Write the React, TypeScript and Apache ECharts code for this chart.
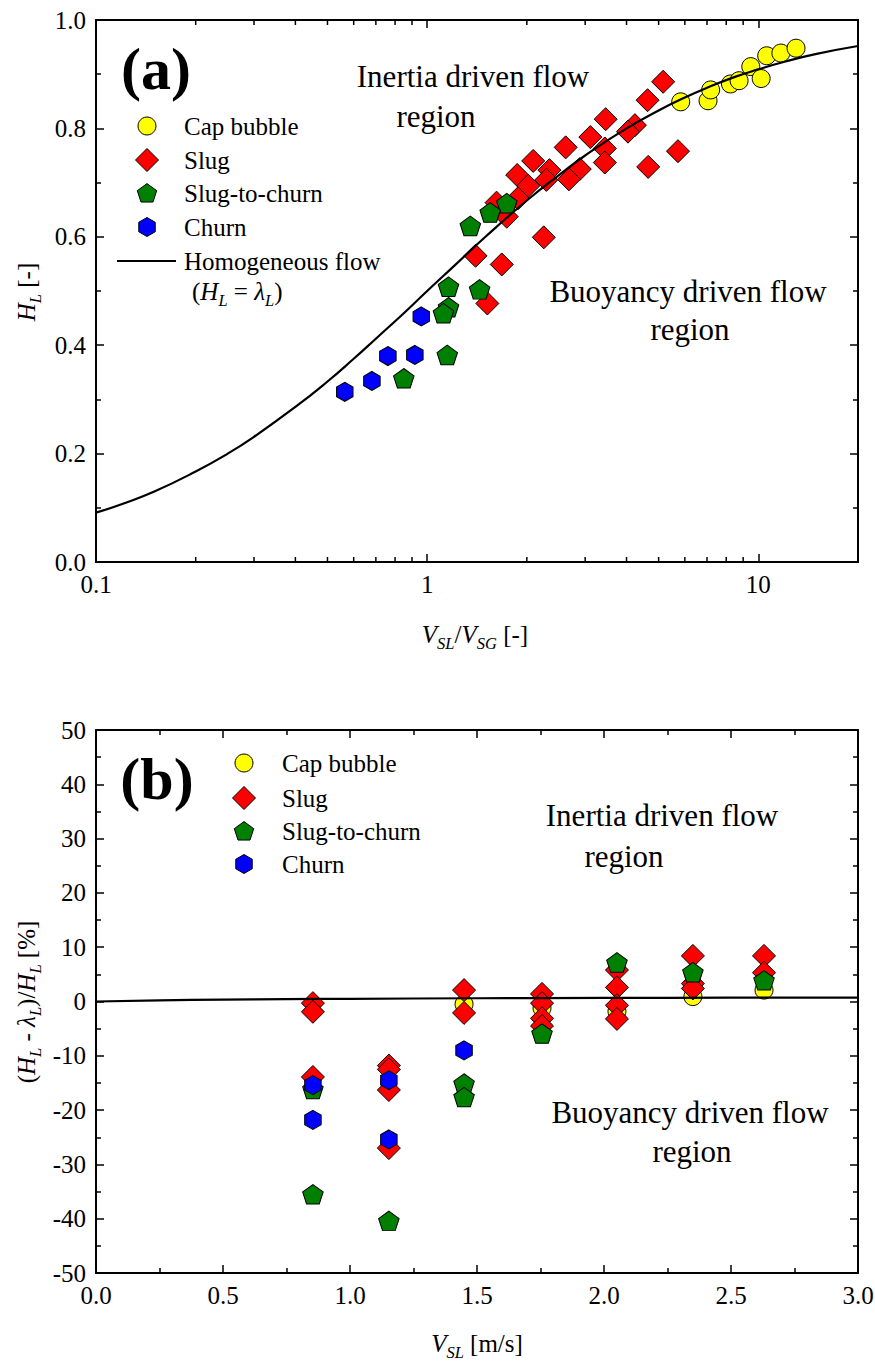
import React, { useEffect, useRef } from "react";
import * as echarts from "echarts";

const FONT = "Liberation Serif";

// ---- Panel (a): liquid holdup H_L against V_SL / V_SG ----
const capRatio = [5.83, 7.05, 7.18, 8.24, 8.75, 9.49, 10.2, 10.6, 11.7, 13.0];
const capHoldup = [0.849, 0.851, 0.871, 0.882, 0.888, 0.914, 0.892, 0.934, 0.939, 0.948];

const slugRatio = [
  5.16, 4.63, 3.46, 3.11, 4.24, 4.04, 3.44, 3.44, 2.89, 4.65, 5.72, 2.62, 2.09,
  2.34, 1.87, 2.02, 2.68, 2.29, 1.88, 1.62, 1.74, 2.25, 1.4, 1.68, 1.52,
];
const slugHoldup = [
  0.886, 0.852, 0.817, 0.784, 0.806, 0.794, 0.763, 0.737, 0.725, 0.729, 0.758,
  0.765, 0.74, 0.723, 0.714, 0.694, 0.706, 0.705, 0.671, 0.663, 0.637, 0.599,
  0.565, 0.549, 0.477,
];

const stcRatio = [1.74, 1.55, 1.35, 1.16, 1.44, 1.16, 1.12, 1.15, 0.85];
const stcHoldup = [0.662, 0.645, 0.62, 0.508, 0.503, 0.47, 0.459, 0.382, 0.339];

const churnRatio = [0.564, 0.681, 0.761, 0.918, 0.96];
const churnHoldup = [0.314, 0.334, 0.38, 0.382, 0.453];

// homogeneous (no-slip) holdup line
const homogRatio = [
  0.1, 0.12, 0.15, 0.2, 0.25, 0.3, 0.4, 0.5, 0.6, 0.7, 0.85, 1, 1.2, 1.5, 2, 2.5,
  3, 4, 5, 6, 7, 8.5, 10, 12, 15, 20,
];
const homogHoldup = [
  0.091, 0.107, 0.13, 0.167, 0.2, 0.231, 0.286, 0.333, 0.375, 0.412, 0.459, 0.5,
  0.545, 0.6, 0.667, 0.714, 0.75, 0.8, 0.833, 0.857, 0.875, 0.895, 0.909, 0.923,
  0.9375, 0.952,
];

// minor ticks of the logarithmic axis
const logMinorTicks = [0.2, 0.3, 0.4, 0.5, 0.6, 0.7, 0.8, 0.9, 2, 3, 4, 5, 6, 7, 8, 9];

// ---- Panel (b): relative deviation (H_L - lambda_L)/H_L against V_SL ----
const capVsl = [1.449, 1.756, 2.051, 2.35, 2.63];
const capDev = [-0.5, -1.2, -1.8, 0.9, 2.1];

const slugVsl = [
  0.854, 0.854, 0.854, 1.153, 1.153, 1.153, 1.153, 1.449, 1.449, 1.756, 1.756,
  1.756, 1.756, 2.051, 2.051, 2.051, 2.051, 2.35, 2.35, 2.35, 2.63, 2.63,
];
const slugDev = [
  -0.3, -1.9, -13.9, -11.8, -12.5, -16.3, -27.0, 2.1, -2.1, 1.4, -0.3, -3.1, -4.5,
  5.8, 2.6, -0.7, -3.2, 8.4, 3.3, 2.4, 8.4, 5.3,
];

const stcVsl = [0.854, 0.854, 1.153, 1.449, 1.449, 1.756, 2.051, 2.35, 2.63];
const stcDev = [-16.1, -35.5, -40.4, -15.1, -17.6, -5.9, 7.2, 5.4, 3.9];

const churnVsl = [0.854, 0.854, 1.153, 1.153, 1.449];
const churnDev = [-15.4, -21.8, -14.5, -25.4, -9.0];

const homogVsl = [0, 0.25, 0.5, 0.75, 1.0, 1.5, 2.0, 2.5, 3.0];
const homogDev = [0, 0.2, 0.35, 0.45, 0.5, 0.6, 0.65, 0.7, 0.72];

const zip = (xs: number[], ys: number[]) => xs.map((x, i) => [x, ys[i]]);

// ---- marker look ----
const YELLOW = "#ffff00";
const RED = "#ff0000";
const GREEN = "#008000";
const BLUE = "#0000ff";
const PENTAGON = "path://M0,-1 L0.951,-0.309 L0.588,0.809 L-0.588,0.809 L-0.951,-0.309 Z";
const HEXAGON = "path://M0,-1 L0.866,-0.5 L0.866,0.5 L0,1 L-0.866,0.5 L-0.866,-0.5 Z";

const markerStyle = (color: string) => ({ color, borderColor: "#000", borderWidth: 1, opacity: 1 });

type Piece = { t: string; it?: boolean; sub?: boolean };

function textStyle(text: string, size: number, align: string, italic = false, bold = false) {
  const s: Record<string, unknown> = {
    text,
    fill: "#000",
    fontFamily: FONT,
    fontSize: size,
    textAlign: align,
    textVerticalAlign: "middle",
    align,
    verticalAlign: "middle",
  };
  if (italic) s.fontStyle = "italic";
  if (bold) s.fontWeight = "bold";
  return s;
}

function composeText(
  ctx: CanvasRenderingContext2D,
  pieces: Piece[],
  size: number,
  x: number,
  y: number,
  align: "left" | "center",
  rotation = 0
) {
  const subSize = size * 0.66;
  const widths = pieces.map((p) => {
    ctx.font = `${p.it ? "italic " : ""}${p.sub ? subSize : size}px ${FONT}`;
    return ctx.measureText(p.t).width;
  });
  const total = widths.reduce((a, b) => a + b, 0);
  let cx = align === "center" ? -total / 2 : 0;
  const children = pieces.map((p, i) => {
    const el = {
      type: "text",
      x: cx,
      y: p.sub ? size * 0.38 : 0,
      style: textStyle(p.t, p.sub ? subSize : size, "left", !!p.it),
    };
    cx += widths[i];
    return el;
  });
  return { type: "group", x, y, rotation, children };
}

function plainText(text: string, x: number, y: number, size: number, bold = false) {
  return { type: "text", x, y, style: textStyle(text, size, "center", false, bold) };
}

function polygonPoints(cx: number, cy: number, r: number, n: number) {
  const pts: number[][] = [];
  for (let k = 0; k < n; k++) {
    const a = -Math.PI / 2 + (2 * Math.PI * k) / n;
    pts.push([cx + r * Math.cos(a), cy + r * Math.sin(a)]);
  }
  return pts;
}

function legendMarkers(x: number, ys: number[]) {
  const s = { stroke: "#000", lineWidth: 1 };
  return [
    { type: "circle", shape: { cx: x, cy: ys[0], r: 9 }, style: { fill: YELLOW, ...s } },
    {
      type: "polygon",
      shape: { points: [[x, ys[1] - 11.5], [x + 11.5, ys[1]], [x, ys[1] + 11.5], [x - 11.5, ys[1]]] },
      style: { fill: RED, ...s },
    },
    { type: "polygon", shape: { points: polygonPoints(x, ys[2] + 0.8, 10.2, 5) }, style: { fill: GREEN, ...s } },
    { type: "polygon", shape: { points: polygonPoints(x, ys[3], 9.5, 6) }, style: { fill: BLUE, ...s } },
  ];
}

const legendNames = ["Cap bubble", "Slug", "Slug-to-churn", "Churn"];

const tickLine = { color: "#000", width: 1.5 };
const labelStyle = { show: true, color: "#000", fontFamily: FONT, fontSize: 25, margin: 10 };

function axis(extra: Record<string, unknown>, labels = true) {
  return {
    axisLine: { show: true, onZero: false, lineStyle: { color: "#000", width: 2 } },
    axisTick: { show: true, inside: true, length: 8, lineStyle: tickLine },
    splitLine: { show: false },
    axisLabel: labels ? labelStyle : { show: false },
    ...extra,
  };
}

const minor = { show: true, splitNumber: 2, length: 5, lineStyle: tickLine };

const logLabel = (v: number) => String(Number(v.toPrecision(3)));

export default function App() {
  const ref = useRef<HTMLDivElement>(null);

  useEffect(() => {
    document.body.style.margin = "0";
    if (!ref.current) return;
    const chart = echarts.init(ref.current, null, { renderer: "svg" });
    const ctx = document.createElement("canvas").getContext("2d") as CanvasRenderingContext2D;

    const scatter = (
      name: string,
      data: number[][],
      color: string,
      symbol: string,
      size: number | number[],
      xi: number,
      yi: number
    ) => ({
      type: "scatter",
      name,
      xAxisIndex: xi,
      yAxisIndex: yi,
      data,
      symbol,
      symbolSize: size,
      itemStyle: markerStyle(color),
      z: 2,
      silent: true,
    });

    const homogLine = (data: number[][], xi: number, yi: number) => ({
      type: "line",
      name: "Homogeneous flow",
      xAxisIndex: xi,
      yAxisIndex: yi,
      data,
      smooth: true,
      symbol: "none",
      showSymbol: false,
      lineStyle: { color: "#000", width: 2.2 },
      z: 4,
      silent: true,
    });

    const legendA = [126, 160, 193, 227];
    const legendB = [763, 798, 831, 864];

    const option = {
      animation: false,
      backgroundColor: "#fff",
      textStyle: { fontFamily: FONT },
      grid: [
        { left: 96, top: 20, width: 762, height: 542, containLabel: false, outerBoundsMode: "none" },
        { left: 96, top: 730, width: 762, height: 543, containLabel: false, outerBoundsMode: "none" },
      ],
      xAxis: [
        axis({
          type: "log",
          logBase: 10,
          min: 0.1,
          max: 20,
          gridIndex: 0,
          position: "bottom",
          axisLabel: { ...labelStyle, showMaxLabel: false, formatter: logLabel },
        }),
        axis({ type: "log", logBase: 10, min: 0.1, max: 20, gridIndex: 0, position: "top" }, false),
        axis({
          type: "value",
          min: 0,
          max: 3,
          interval: 0.5,
          gridIndex: 1,
          position: "bottom",
          minorTick: minor,
          axisLabel: { ...labelStyle, formatter: (v: number) => v.toFixed(1) },
        }),
        axis(
          { type: "value", min: 0, max: 3, interval: 0.5, gridIndex: 1, position: "top", minorTick: minor },
          false
        ),
      ],
      yAxis: [
        axis({
          type: "value",
          min: 0,
          max: 1,
          interval: 0.2,
          gridIndex: 0,
          position: "left",
          minorTick: minor,
          axisLabel: { ...labelStyle, formatter: (v: number) => v.toFixed(1) },
        }),
        axis(
          { type: "value", min: 0, max: 1, interval: 0.2, gridIndex: 0, position: "right", minorTick: minor },
          false
        ),
        axis({
          type: "value",
          min: -50,
          max: 50,
          interval: 10,
          gridIndex: 1,
          position: "left",
          minorTick: minor,
        }),
        axis(
          { type: "value", min: -50, max: 50, interval: 10, gridIndex: 1, position: "right", minorTick: minor },
          false
        ),
      ],
      series: [
        // panel (a)
        scatter("Cap bubble", zip(capRatio, capHoldup), YELLOW, "circle", 18, 0, 0),
        scatter("Slug", zip(slugRatio, slugHoldup), RED, "diamond", 23, 0, 0),
        scatter("Slug-to-churn", zip(stcRatio, stcHoldup), GREEN, PENTAGON, [20.5, 19.5], 0, 0),
        scatter("Churn", zip(churnRatio, churnHoldup), BLUE, HEXAGON, [16.5, 19], 0, 0),
        homogLine(zip(homogRatio, homogHoldup), 0, 0),
        {
          type: "custom",
          name: "log minor ticks",
          xAxisIndex: 0,
          yAxisIndex: 0,
          silent: true,
          clip: false,
          z: 5,
          data: logMinorTicks.map((v) => [v, 0]),
          renderItem: (_p: unknown, api: any) => {
            const v = api.value(0);
            const b = api.coord([v, 0]);
            const t = api.coord([v, 1]);
            const st = { stroke: "#000", lineWidth: 1.5 };
            return {
              type: "group",
              children: [
                { type: "line", shape: { x1: b[0], y1: b[1], x2: b[0], y2: b[1] - 5 }, style: st },
                { type: "line", shape: { x1: t[0], y1: t[1], x2: t[0], y2: t[1] + 5 }, style: st },
              ],
            };
          },
        },
        // panel (b)
        scatter("Cap bubble", zip(capVsl, capDev), YELLOW, "circle", 18, 2, 2),
        scatter("Slug", zip(slugVsl, slugDev), RED, "diamond", 23, 2, 2),
        scatter("Slug-to-churn", zip(stcVsl, stcDev), GREEN, PENTAGON, [20.5, 19.5], 2, 2),
        scatter("Churn", zip(churnVsl, churnDev), BLUE, HEXAGON, [16.5, 19], 2, 2),
        homogLine(zip(homogVsl, homogDev), 2, 2),
      ],
      graphic: [
        // panel (a) annotations
        plainText("(a)", 156, 68.5, 60, true),
        plainText("Inertia driven flow", 473, 76, 31),
        plainText("region", 436, 116, 31),
        plainText("Buoyancy driven flow", 688, 291, 31),
        plainText("region", 690, 329, 31),
        ...legendMarkers(147, legendA),
        ...legendNames.map((t, i) => ({ type: "text", x: 184, y: legendA[i], style: textStyle(t, 25, "left") })),
        { type: "line", shape: { x1: 117, y1: 261, x2: 176, y2: 261 }, style: { stroke: "#000", lineWidth: 2.2 } },
        { type: "text", x: 184, y: 261, style: textStyle("Homogeneous flow", 25, "left") },
        composeText(
          ctx,
          [{ t: "(" }, { t: "H", it: true }, { t: "L", it: true, sub: true }, { t: " = " }, { t: "λ", it: true }, { t: "L", it: true, sub: true }, { t: ")" }],
          25,
          192,
          291,
          "left"
        ),
        composeText(ctx, [{ t: "H", it: true }, { t: "L", it: true, sub: true }, { t: " [-]" }], 25, 26, 292, "center", Math.PI / 2),
        composeText(
          ctx,
          [{ t: "V", it: true }, { t: "SL", it: true, sub: true }, { t: "/" }, { t: "V", it: true }, { t: "SG", it: true, sub: true }, { t: " [-]" }],
          25,
          475,
          634,
          "center"
        ),
        // panel (b) annotations
        plainText("(b)", 157, 779, 60, true),
        plainText("Inertia driven flow", 662, 815, 31),
        plainText("region", 624, 856, 31),
        plainText("Buoyancy driven flow", 690, 1112, 31),
        plainText("region", 692, 1151, 31),
        ...legendMarkers(244, legendB),
        ...legendNames.map((t, i) => ({ type: "text", x: 282, y: legendB[i], style: textStyle(t, 25, "left") })),
        composeText(
          ctx,
          [
            { t: "(" },
            { t: "H", it: true },
            { t: "L", it: true, sub: true },
            { t: " - " },
            { t: "λ", it: true },
            { t: "L", it: true, sub: true },
            { t: ")/" },
            { t: "H", it: true },
            { t: "L", it: true, sub: true },
            { t: " [%]" },
          ],
          25,
          26,
          1002,
          "center",
          Math.PI / 2
        ),
        composeText(ctx, [{ t: "V", it: true }, { t: "SL", it: true, sub: true }, { t: " [m/s]" }], 25, 477, 1343, "center"),
      ],
    };

    chart.setOption(option as any);
    return () => chart.dispose();
  }, []);

  return <div ref={ref} style={{ width: 875, height: 1362 }} />;
}
